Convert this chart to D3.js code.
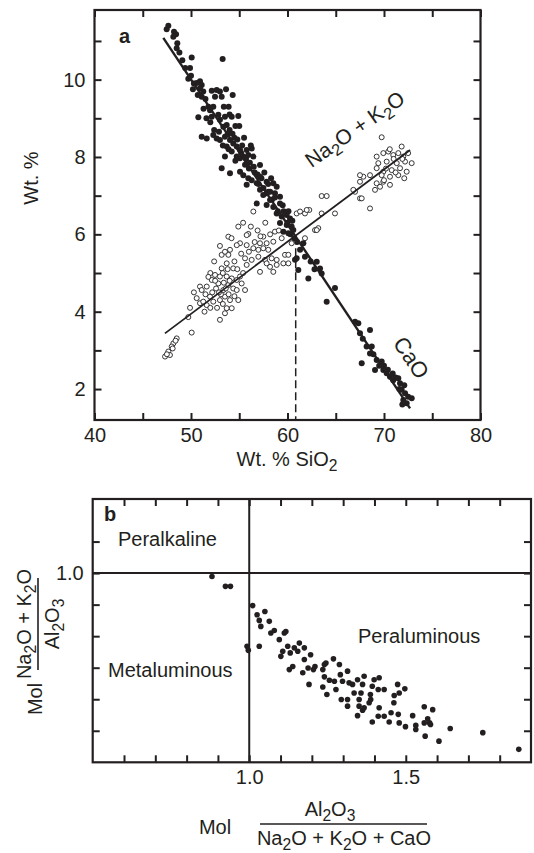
<!DOCTYPE html>
<html lang="en">
<head>
<meta charset="UTF-8">
<title>SiO2 variation and alumina saturation</title>
<style>
  body { margin: 0; background: #fff; }
  text { font-family: "Liberation Sans", Arial, sans-serif; fill: #231f20; }
  .tick text { font-size: 20px; }
</style>
</head>
<body>
<div id="chart"></div>
<script src="https://cdn.jsdelivr.net/npm/d3@7"></script>
<script>
// ---------- data (panel a: Wt.% SiO2 vs Wt.%) ----------
const caoPoints = [
  [47.65,11.39],[47.48,11.30],[48.24,11.24],[48.45,11.17],[48.17,11.11],[48.58,10.94],[48.52,10.81],
  [50.07,10.57],[53.28,10.53],[49.72,10.02],[50.93,9.96],[51.11,9.86],[50.59,9.91],
  [50.93,9.78],[51.27,9.69],[51.11,9.56],[52.15,9.71],[52.66,9.73],[53.0,9.69],[53.63,9.75],[52.49,9.56],[53.18,9.56],[54.32,9.60],
  [50.76,9.03],[51.97,9.21],[52.15,9.04],[52.31,9.30],
  [52.83,9.09],[53.0,8.96],[53.52,9.04],[54.22,9.04],[54.9,9.06],[53.7,8.83],[53.35,8.78],
  [51.11,8.52],[51.63,8.48],[52.31,8.57],[52.66,8.48],[53.0,8.44],[53.52,8.52],[54.04,8.44],[54.38,8.35],[54.74,8.27],
  [55.08,8.18],[55.77,8.18],[56.29,8.22],[53.7,8.27],[54.22,8.14],[54.74,8.01],[55.08,7.97],[55.42,8.01],[55.94,8.05],[56.46,8.01],[53.52,8.01],
  [53.18,7.71],[54.04,7.58],[55.08,7.62],[55.42,7.53],[55.94,7.45],[56.29,7.40],[57.15,7.79],[57.15,7.49],[56.81,7.32],[57.84,7.36],
  [58.53,7.32],[58.88,7.23],[58.70,7.06],[58.01,7.10],[57.49,7.02],[59.22,6.97],
  [55.77,7.28],[57.15,7.15],[57.84,7.06],[58.19,6.89],[56.81,6.80],[57.84,6.76],[58.53,6.71],[59.22,6.80],[58.88,6.54],[59.40,6.46],
  [59.92,6.50],[60.26,6.41],[59.22,6.29],[59.92,6.24],[60.43,6.20],[60.60,6.11],[59.57,6.07],[60.09,6.03],
  [60.78,5.34],[60.95,5.38],[61.12,5.08],[61.81,5.42],[61.64,5.77],[62.16,4.86],[63.03,5.29],[63.37,5.12],[63.54,4.99],[64.92,4.61],[64.06,4.26],
  [67.0,3.74],[67.34,3.70],[67.51,3.44],[68.55,3.53],[68.73,3.10],[68.55,2.92],[69.24,2.75],[69.76,2.71],[69.07,2.49],[69.93,2.49],
  [70.28,2.41],[70.62,2.32],[70.96,2.23],[71.48,2.28],[71.66,2.15],[71.83,1.98],[72.18,1.89],[72.0,1.72],[72.87,1.76],[72.35,1.63],[67.69,2.67],
  [53.8,8.6],[54.5,8.5],[54.0,8.7],[55.3,8.3],[54.6,7.9],[55.6,7.8],[56.0,7.7],[56.6,7.6],[57.0,7.3],[57.5,7.2],[58.2,7.1],[58.4,6.9],
  [59.0,6.6],[59.6,6.6],[60.0,6.3],[60.3,6.0],[60.7,5.9],[61.0,5.8],[52.0,8.9],[51.8,9.3],[51.5,9.5],[50.3,9.9],[50.0,10.1],[49.4,10.3],
  [53.9,9.3],[54.6,8.8],[55.5,8.5],[56.2,8.3],[61.3,5.6],[62.4,5.3],[62.8,5.1],[67.8,3.3],[68.2,3.1],[68.9,2.9],[69.5,2.6],[70.0,2.6],
  [70.4,2.5],[70.9,2.4],[71.2,2.3],[71.6,2.0],[72.1,2.1],[72.5,1.8],[71.9,1.6],
  [52.4,8.7],[52.9,8.65],[53.3,8.3],[53.9,8.2],[54.3,8.6],[54.8,8.45],[55.2,8.1],[55.7,7.95],[56.1,7.85],[56.5,7.75],[56.9,7.55],
  [57.3,7.45],[57.6,7.6],[58.0,7.3],[58.3,7.45],[58.7,6.95],[59.5,6.75],[60.1,6.6],[60.5,6.35],[51.6,9.0],[51.3,9.25],[50.7,9.6],
  [50.2,9.75],[49.9,10.3],[49.1,10.5],[48.8,10.7],[53.4,9.3],[54.0,9.1],[55.0,8.8]
];
const alkaliPoints = [
  [63.54,6.99],[64.06,6.99],[67.0,7.10],[67.51,6.93],[68.55,6.67],[64.92,6.54],[63.54,6.54],[62.26,6.63],[61.81,6.54],[60.95,6.54],
  [56.46,6.59],[58.70,6.07],[59.40,5.90],[60.43,5.77],[61.81,5.90],[62.85,6.11],[63.19,6.16],[53.87,5.94],[55.94,6.01],[57.49,5.94],
  [55.08,5.77],[55.77,5.72],[57.15,5.77],[57.84,5.77],[58.53,5.81],[56.46,5.64],[56.98,5.60],[57.49,5.64],[58.01,5.60],[55.60,5.38],
  [56.29,5.34],[56.98,5.42],[57.67,5.34],[58.36,5.38],[58.88,5.34],[59.74,5.47],[60.09,5.47],[59.57,5.25],[60.09,5.25],[54.74,5.72],
  [54.04,5.60],[53.87,5.47],[53.18,5.47],[53.52,5.55],[54.38,5.12],[53.70,5.25],[53.18,5.12],[52.49,4.95],[53.0,4.91],[53.70,4.91],
  [54.22,4.86],[54.74,4.82],[55.25,4.73],[55.60,4.56],[54.38,4.60],[53.87,4.69],[53.35,4.56],[52.83,4.73],[52.15,4.82],[51.63,4.65],
  [50.93,4.65],[51.11,4.56],[50.59,4.35],[50.93,4.22],[51.63,4.17],[52.31,4.26],[53.0,4.30],[53.52,4.39],[54.04,4.30],[54.22,4.09],
  [53.52,3.96],[53.70,4.09],[53.0,3.79],[49.72,3.86],[50.07,3.46],[48.52,3.31],[48.17,3.18],[48.0,3.10],[47.65,2.97],[47.31,2.84],
  [47.82,2.88],[55.77,5.21],[57.15,5.03],[58.53,5.03],[58.19,5.16],[57.84,5.25],[58.88,5.21],[51.97,4.39],[51.27,4.26],[55.08,4.91],
  [54.74,4.56],[52.0,5.0],[52.6,4.6],[53.1,4.45],[53.9,4.45],[54.5,4.4],[52.7,4.1],[53.3,4.2],[54.8,5.1],[55.4,5.0],[51.8,4.9],
  [50.3,4.5],[49.9,4.1],[52.4,5.3],[53.0,5.7],[54.2,5.9],[54.9,6.2],[55.4,6.3],[56.2,6.2],[56.9,6.1],[57.7,6.3],[59.1,6.1],
  [48.1,3.05],[47.5,2.9],[48.4,3.25],
  [69.76,8.51],[69.24,8.01],[69.93,8.10],[70.45,8.14],[70.96,8.05],[71.83,8.27],[71.48,8.10],[72.0,8.01],[69.41,7.84],[70.28,7.88],
  [71.32,7.84],[72.18,7.88],[72.87,7.84],[69.24,7.71],[69.93,7.62],[70.80,7.66],[71.66,7.71],[72.35,7.62],[69.76,7.53],[70.62,7.49],
  [71.48,7.53],[69.24,7.32],[69.93,7.36],[68.55,7.53],[67.86,7.49],[67.51,7.36],[69.07,7.15],[69.59,7.23],[70.62,7.28],[66.82,7.15],
  [67.51,7.53],[67.69,6.93],[61.30,6.59],[61.99,6.63],[63.03,6.11],[55.77,5.98],
  [70.2,7.7],[71.0,7.95],[71.9,7.95],[72.5,8.1],[70.6,8.2],[71.2,7.6],[72.1,7.45],[70.0,7.4],
  [52.2,4.5],[52.9,4.5],[53.6,4.6],[54.0,4.8],[52.5,4.8],[53.4,4.75],[51.5,4.45],[52.0,4.1],[53.8,5.1],[54.5,5.3],[55.2,5.5],
  [56.0,5.55],[56.6,5.8],[57.2,5.95],[58.2,6.0],[53.3,5.0],[51.4,4.0],[54.9,4.3]
];
const caoFit = [[47.13, 11.08], [72.7, 1.50]];
const alkaliFit = [[47.3, 3.44], [72.7, 8.18]];
const crossSiO2 = 60.85;
const crossWt = 5.95;

// ---------- data (panel b: alumina saturation) ----------
const molPoints = [
  [0.881,0.989],[0.924,0.958],[0.940,0.958],
  [1.011,0.897],[0.993,0.768],[0.997,0.755],[1.025,0.868],[1.032,0.850],[1.037,0.831],[1.050,0.878],[1.032,0.768],
  [1.064,0.847],[1.069,0.810],[1.080,0.818],[1.096,0.789],[1.112,0.810],[1.117,0.815],[1.107,0.752],[1.101,0.736],
  [1.123,0.768],[1.131,0.747],[1.144,0.763],[1.160,0.778],[1.155,0.752],[1.176,0.763],[1.128,0.694],[1.139,0.704],
  [1.171,0.684],[1.176,0.726],[1.188,0.699],[1.196,0.741],[1.191,0.647],[1.210,0.704],[1.205,0.694],[1.235,0.694],
  [1.240,0.710],[1.245,0.715],[1.269,0.728],[1.240,0.671],[1.235,0.639],[1.248,0.615],[1.256,0.660],[1.272,0.657],
  [1.277,0.631],[1.288,0.710],[1.291,0.678],[1.314,0.689],[1.298,0.657],[1.319,0.652],[1.330,0.647],[1.294,0.599],
  [1.314,0.599],[1.314,0.578],[1.346,0.662],[1.335,0.620],[1.351,0.599],[1.357,0.620],[1.367,0.673],[1.362,0.647],
  [1.387,0.615],[1.383,0.589],[1.351,0.578],[1.362,0.565],[1.346,0.548],[1.367,0.573],[1.388,0.599],[1.393,0.641],
  [1.399,0.662],[1.415,0.668],[1.412,0.631],[1.431,0.631],[1.393,0.528],[1.415,0.573],[1.412,0.546],[1.431,0.546],
  [1.447,0.528],[1.453,0.557],[1.462,0.589],[1.463,0.612],[1.474,0.647],[1.479,0.620],[1.476,0.552],[1.497,0.633],
  [1.479,0.525],[1.499,0.513],[1.522,0.548],[1.532,0.517],[1.532,0.504],[1.559,0.576],[1.570,0.538],[1.576,0.525],
  [1.559,0.525],[1.579,0.520],[1.586,0.567],[1.562,0.483],[1.606,0.467],[1.642,0.507],[1.746,0.494],[1.861,0.441]
];

// ticks
const aXTicks = [40, 45, 50, 55, 60, 65, 70, 75, 80];
const aXLabels = [40, 50, 60, 70, 80];
const aYTicks = [2, 3, 4, 5, 6, 7, 8, 9, 10, 11];
const aYLabels = [2, 4, 6, 8, 10];
const bXTicks = [0.6, 0.7, 0.8, 0.9, 1.0, 1.1, 1.2, 1.3, 1.4, 1.5, 1.6, 1.7, 1.8];
const bXLabels = [1.0, 1.5];
const bYTicks = [0.5, 0.6, 0.7, 0.8, 0.9, 1.0, 1.1];
const bYLabels = [1.0];

const ink = '#231f20';
const fs = 20;
const svg = d3.select('#chart').append('svg')
  .attr('width', 534)
  .attr('height', 853);

// text with subscripts: parts = [[string, isSub], ...]
function chem(sel, parts) {
  let sub = false;
  parts.forEach(([s, isSub]) => {
    const t = sel.append('tspan').text(s);
    if (isSub && !sub) t.attr('dy', 5).attr('font-size', '0.78em');
    else if (!isSub && sub) t.attr('dy', -5);
    else if (isSub) t.attr('font-size', '0.78em');
    sub = isSub;
  });
  return sel;
}

// frame + inward ticks on all four sides
function frame(x, y, xTicks, xLabels, yTicks, yLabels, fmt) {
  const [x0, x1] = x.range();
  const [y0, y1] = y.range();
  const has = (arr, v) => arr.some(a => Math.abs(a - v) < 1e-9);

  svg.append('g')
    .attr('transform', `translate(0,${y0})`)
    .attr('color', ink)
    .call(d3.axisBottom(x).tickValues(xTicks).tickSizeInner(-7).tickSizeOuter(0).tickPadding(8)
      .tickFormat(d => has(xLabels, d) ? fmt(d) : ''))
    .call(g => g.select('.domain').remove())
    .call(g => g.selectAll('.tick line').attr('stroke-width', 2));

  svg.append('g')
    .attr('transform', `translate(0,${y1})`)
    .attr('color', ink)
    .call(d3.axisTop(x).tickValues(xTicks).tickSizeInner(-7).tickSizeOuter(0).tickFormat(''))
    .call(g => g.select('.domain').remove())
    .call(g => g.selectAll('.tick line').attr('stroke-width', 2));

  svg.append('g')
    .attr('transform', `translate(${x0},0)`)
    .attr('color', ink)
    .call(d3.axisLeft(y).tickValues(yTicks).tickSizeInner(-7).tickSizeOuter(0).tickPadding(9)
      .tickFormat(d => has(yLabels, d) ? fmt(d) : ''))
    .call(g => g.select('.domain').remove())
    .call(g => g.selectAll('.tick line').attr('stroke-width', 2));

  svg.append('g')
    .attr('transform', `translate(${x1},0)`)
    .attr('color', ink)
    .call(d3.axisRight(y).tickValues(yTicks).tickSizeInner(-7).tickSizeOuter(0).tickFormat(''))
    .call(g => g.select('.domain').remove())
    .call(g => g.selectAll('.tick line').attr('stroke-width', 2));

  svg.append('rect')
    .attr('x', x0).attr('y', y1)
    .attr('width', x1 - x0).attr('height', y0 - y1)
    .attr('fill', 'none').attr('stroke', ink).attr('stroke-width', 2.2);
}

// ================= panel a =================
const xA = d3.scaleLinear().domain([40, 80]).range([94.5, 480.5]);
const yA = d3.scaleLinear().domain([1.2, 11.8]).range([420, 10]);

frame(xA, yA, aXTicks, aXLabels, aYTicks, aYLabels, d3.format('d'));

const lineA = d3.line().x(d => xA(d[0])).y(d => yA(d[1]));

svg.append('line')
  .attr('x1', xA(crossSiO2)).attr('x2', xA(crossSiO2))
  .attr('y1', yA(crossWt)).attr('y2', yA(1.2))
  .attr('stroke', ink).attr('stroke-width', 1.5)
  .attr('stroke-dasharray', '8,4');

svg.append('g').selectAll('circle')
  .data(alkaliPoints)
  .join('circle')
  .attr('cx', d => xA(d[0]))
  .attr('cy', d => yA(d[1]))
  .attr('r', 2.5)
  .attr('fill', '#fff')
  .attr('stroke', ink)
  .attr('stroke-width', 0.9);

svg.append('g').selectAll('circle')
  .data(caoPoints)
  .join('circle')
  .attr('cx', d => xA(d[0]))
  .attr('cy', d => yA(d[1]))
  .attr('r', 3.0)
  .attr('fill', ink);

svg.append('path').attr('d', lineA(alkaliFit))
  .attr('fill', 'none').attr('stroke', ink).attr('stroke-width', 1.8);
svg.append('path').attr('d', lineA(caoFit))
  .attr('fill', 'none').attr('stroke', ink).attr('stroke-width', 2.4);

svg.append('text').attr('x', 119).attr('y', 43)
  .attr('font-size', fs).attr('font-weight', 'bold').text('a');

chem(svg.append('text')
  .attr('transform', 'translate(359,135) rotate(-35)')
  .attr('text-anchor', 'middle').attr('font-size', 21),
  [['Na', false], ['2', true], ['O + K', false], ['2', true], ['O', false]]);

svg.append('text')
  .attr('transform', 'translate(405,362) rotate(56)')
  .attr('text-anchor', 'middle').attr('font-size', 22)
  .text('CaO');

chem(svg.append('text')
  .attr('x', 287).attr('y', 466)
  .attr('text-anchor', 'middle').attr('font-size', fs),
  [['Wt. % SiO', false], ['2', true]]);

svg.append('text')
  .attr('transform', 'translate(38,178) rotate(-90)')
  .attr('text-anchor', 'middle').attr('font-size', fs)
  .text('Wt. %');

// ================= panel b =================
const xB = d3.scaleLinear().domain([0.5, 1.9]).range([92.7, 531]);
const yB = d3.scaleLinear().domain([0.4, 1.235]).range([762.3, 499]);

frame(xB, yB, bXTicks, bXLabels, bYTicks, bYLabels, d3.format('.1f'));

svg.append('line')
  .attr('x1', xB(1.0)).attr('x2', xB(1.0))
  .attr('y1', yB(0.4)).attr('y2', yB(1.235))
  .attr('stroke', ink).attr('stroke-width', 2);
svg.append('line')
  .attr('x1', xB(0.5)).attr('x2', xB(1.9))
  .attr('y1', yB(1.0)).attr('y2', yB(1.0))
  .attr('stroke', ink).attr('stroke-width', 2);

svg.append('g').selectAll('circle')
  .data(molPoints)
  .join('circle')
  .attr('cx', d => xB(d[0]))
  .attr('cy', d => yB(d[1]))
  .attr('r', 2.8)
  .attr('fill', ink);

svg.append('text').attr('x', 104).attr('y', 521)
  .attr('font-size', fs).attr('font-weight', 'bold').text('b');
svg.append('text').attr('x', 118).attr('y', 546).attr('font-size', fs).text('Peralkaline');
svg.append('text').attr('x', 108).attr('y', 677).attr('font-size', fs).text('Metaluminous');
svg.append('text').attr('x', 358).attr('y', 643).attr('font-size', fs).text('Peraluminous');

// y title (rotated fraction)
svg.append('text')
  .attr('transform', 'translate(42,699) rotate(-90)')
  .attr('text-anchor', 'middle').attr('font-size', fs)
  .text('Mol');
const yTitle = svg.append('g').attr('transform', 'translate(38,624) rotate(-90)');
yTitle.append('line').attr('x1', -46).attr('x2', 46)
  .attr('stroke', ink).attr('stroke-width', 1.6);
chem(yTitle.append('text').attr('y', -7).attr('text-anchor', 'middle').attr('font-size', fs),
  [['Na', false], ['2', true], ['O + K', false], ['2', true], ['O', false]]);
chem(yTitle.append('text').attr('y', 21).attr('text-anchor', 'middle').attr('font-size', fs),
  [['Al', false], ['2', true], ['O', false], ['3', true]]);

// x title (fraction)
svg.append('text').attr('x', 215).attr('y', 834)
  .attr('text-anchor', 'middle').attr('font-size', fs).text('Mol');
svg.append('line').attr('x1', 260).attr('x2', 427).attr('y1', 824).attr('y2', 824)
  .attr('stroke', ink).attr('stroke-width', 1.6);
chem(svg.append('text').attr('x', 330).attr('y', 816)
  .attr('text-anchor', 'middle').attr('font-size', fs),
  [['Al', false], ['2', true], ['O', false], ['3', true]]);
chem(svg.append('text').attr('x', 344).attr('y', 845)
  .attr('text-anchor', 'middle').attr('font-size', fs),
  [['Na', false], ['2', true], ['O + K', false], ['2', true], ['O + CaO', false]]);
</script>
</body>
</html>
